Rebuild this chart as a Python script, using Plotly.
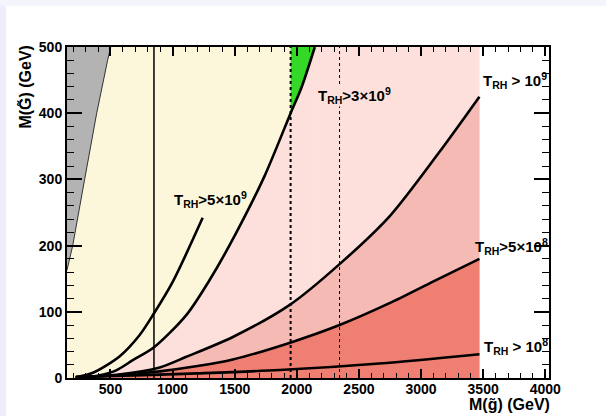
import plotly.graph_objects as go

# ---------------- data ----------------
# curve T_RH > 5x10^9
C1_X = [220, 359, 575, 735, 848, 1003, 1242]
C1_Y = [1, 8, 33, 65, 97, 146, 242]
# curve T_RH > 3x10^9 (yellow / pink boundary)
C2_X = [300, 414, 550, 680, 848, 1110, 1298, 1500, 1740, 1950, 2036, 2145]
C2_Y = [1, 4, 12, 27, 46, 95, 148, 215, 305, 400, 438, 500]
# curve T_RH > 10^9
C3_X = [220, 550, 896, 1110, 1485, 1940, 2344, 2750, 3146, 3470]
C3_Y = [1, 5, 16, 32, 62, 110, 172, 245, 341, 425]
# curve T_RH > 5x10^8
C4_X = [220, 550, 896, 1200, 1485, 1940, 2344, 2746, 3100, 3470]
C4_Y = [1, 4, 10, 18, 28, 53, 80, 113, 146, 180]
# curve T_RH > 10^8
C5_X = [220, 700, 1200, 1860, 2664, 3470]
C5_Y = [2, 4, 7, 12, 22, 36]
# excluded (gray) region boundary
GRAY_X = [150, 196, 292, 389, 477, 502]
GRAY_Y = [163, 200, 300, 400, 480, 500]
# green region: part of C2 beyond the dashed line
GREEN_X0 = 1950
# region limits
X_MIN = 150
X_EDGE = 3470
Y_MAX = 500
# vertical reference lines
VLINE_SOLID = 850
VLINE_DASH = 1950
VLINE_DOT = 2344

LABELS = [
    ("<b>T<sub>RH</sub>&gt;5×10<sup>9</sup></b>", 1000, 270),
    ("<b>T<sub>RH</sub>&gt;3×10<sup>9</sup></b>", 2161, 427),
    ("<b>T<sub>RH</sub> &gt; 10<sup>9</sup></b>", 3488, 449),
    ("<b>T<sub>RH</sub>&gt;5×10<sup>8</sup></b>", 3430, 199),
    ("<b>T<sub>RH</sub> &gt; 10<sup>8</sup></b>", 3502, 48),
]

YELLOW = "#fcf7da"
PINK1 = "#fde0dc"
PINK2 = "#f5bab3"
SALMON = "#ee7f72"
GRAY = "#b3b3b3"
GREEN = "#33d926"

fig = go.Figure()

def poly(xs, ys, color):
    fig.add_trace(go.Scatter(
        x=xs, y=ys, fill="toself", fillcolor=color, mode="lines",
        line=dict(color=color, width=0),
        hoverinfo="skip", showlegend=False))

def under(xs, ys, color):
    fig.add_trace(go.Scatter(
        x=xs, y=ys, fill="tozeroy", fillcolor=color, mode="lines",
        line=dict(color=color, width=0, shape="spline", smoothing=0.8),
        hoverinfo="skip", showlegend=False))

# yellow base
poly([X_MIN, X_MIN, X_EDGE, X_EDGE], [0, Y_MAX, Y_MAX, 0], YELLOW)
# light pink: right of C2
under(C2_X, C2_Y, PINK1)
poly([C2_X[-1], C2_X[-1], X_EDGE, X_EDGE], [0, Y_MAX, Y_MAX, 0], PINK1)
# medium pink: under C3
under(C3_X, C3_Y, PINK2)
# salmon: under C4
under(C4_X, C4_Y, SALMON)
# green
gx = [x for x in C2_X if x >= GREEN_X0]
gy = [y for x, y in zip(C2_X, C2_Y) if x >= GREEN_X0]
poly(gx + [GREEN_X0], gy + [Y_MAX], GREEN)
# gray
poly(GRAY_X + [X_MIN], GRAY_Y + [Y_MAX], GRAY)
fig.add_trace(go.Scatter(x=GRAY_X, y=GRAY_Y, mode="lines",
                         line=dict(color="#333333", width=1),
                         hoverinfo="skip", showlegend=False))

# vertical lines
for xv, dash, w in [(VLINE_SOLID, "solid", 1.5), (VLINE_DASH, "dot", 2), (VLINE_DOT, "dot", 1)]:
    fig.add_trace(go.Scatter(x=[xv, xv], y=[0, Y_MAX], mode="lines",
                             line=dict(color="black", width=w, dash=dash),
                             hoverinfo="skip", showlegend=False))

# curves
for xs, ys in [(C1_X, C1_Y), (C2_X, C2_Y), (C3_X, C3_Y), (C4_X, C4_Y), (C5_X, C5_Y)]:
    fig.add_trace(go.Scatter(x=xs, y=ys, mode="lines",
                             line=dict(color="black", width=2.6, shape="spline", smoothing=0.8),
                             hoverinfo="skip", showlegend=False))

FONT = "Liberation Sans, Arial, sans-serif"
for i, (txt, x, y) in enumerate(LABELS):
    fig.add_annotation(x=x, y=y, xref="x", yref="y", text=txt, showarrow=False,
                       xanchor="left", yanchor="middle",
                       font=dict(family=FONT, size=15, color="black"),
                       bgcolor=PINK1 if i == 1 else None, borderpad=0)

# axis titles
fig.add_annotation(x=1.006, y=-0.08, xref="paper", yref="paper",
                   text="<b>M(g\u0303) (GeV)</b>", showarrow=False,
                   xanchor="right", yanchor="middle",
                   font=dict(family=FONT, size=16, color="black"))
fig.add_annotation(x=-0.088, y=1.012, xref="paper", yref="paper",
                   text="<b>M(G\u0303) (GeV)</b>", showarrow=False, textangle=-90,
                   xanchor="center", yanchor="top",
                   font=dict(family=FONT, size=16, color="black"))

# lavender window border strips
fig.add_shape(type="rect", xref="paper", yref="paper", x0=-0.15, x1=-0.1266,
              y0=-0.2, y1=1.2, fillcolor="#eeeefb", line_width=0, layer="above")
fig.add_shape(type="rect", xref="paper", yref="paper", x0=-0.15, x1=1.2,
              y0=1.1239, y1=1.2, fillcolor="#f4f4fd", line_width=0, layer="above")

fig.update_xaxes(range=[150, 4030], dtick=500, tick0=0, ticks="inside", ticklen=9,
                 tickwidth=1.5, tickcolor="black", showline=True, linewidth=2,
                 linecolor="black", mirror="ticks", showgrid=False, zeroline=False,
                 ticklabelstandoff=-3,
                 tickfont=dict(family=FONT, size=14, color="black", weight="bold"),
                 minor=dict(ticks="inside", ticklen=5, dtick=100, tick0=0,
                            tickcolor="black", tickwidth=1, showgrid=False))
fig.update_yaxes(range=[0, 500], dtick=100, tick0=0, ticks="inside", ticklen=15,
                 tickwidth=1.5, tickcolor="black", showline=True, linewidth=2,
                 linecolor="black", mirror="ticks", showgrid=False, zeroline=False,
                 tickfont=dict(family=FONT, size=14, color="black", weight="bold"),
                 minor=dict(ticks="inside", ticklen=7, dtick=20, tick0=0,
                            tickcolor="black", tickwidth=1, showgrid=False))

fig.update_layout(width=606, height=416,
                  margin=dict(l=67, r=57, t=47, b=38, autoexpand=False),
                  paper_bgcolor="white", plot_bgcolor="white", showlegend=False)

fig.write_html("out.html")
